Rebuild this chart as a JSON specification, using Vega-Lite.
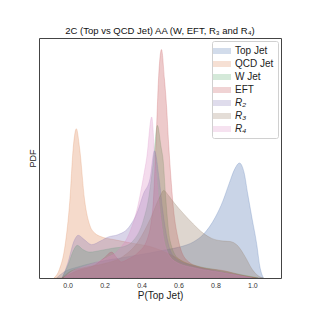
{
"$schema": "https://vega.github.io/schema/vega-lite/v6.json",
"width": 242, "height": 240,
"autosize": {"type": "none"},
"padding": {"left": 39, "top": 38, "right": 31, "bottom": 34},
"background": "white",
"title": {"text": "2C (Top vs QCD Jet) AA (W, EFT, R₃ and R₄)", "fontSize": 9.5, "font": "Liberation Sans", "fontWeight": "normal", "color": "#111", "offset": 3},
"config": {"view": {"stroke": "#444", "strokeWidth": 1}, "font": "Liberation Sans"},
"datasets": {
"kde": [
{"s":"Top Jet","x":-0.06,"y":0},{"s":"Top Jet","x":-0.02,"y":0.25},{"s":"Top Jet","x":0.05,"y":0.45},{"s":"Top Jet","x":0.15,"y":0.65},{"s":"Top Jet","x":0.3,"y":0.85},{"s":"Top Jet","x":0.45,"y":1.05},{"s":"Top Jet","x":0.55,"y":1.2},{"s":"Top Jet","x":0.62,"y":1.32},{"s":"Top Jet","x":0.68,"y":1.5},{"s":"Top Jet","x":0.735,"y":1.82},{"s":"Top Jet","x":0.8,"y":2.54},{"s":"Top Jet","x":0.84,"y":3.2},{"s":"Top Jet","x":0.874,"y":3.93},{"s":"Top Jet","x":0.905,"y":4.55},{"s":"Top Jet","x":0.93,"y":4.79},{"s":"Top Jet","x":0.955,"y":4.4},{"s":"Top Jet","x":0.975,"y":3.5},{"s":"Top Jet","x":0.997,"y":2.54},{"s":"Top Jet","x":1.024,"y":1.39},{"s":"Top Jet","x":1.04,"y":0.5},{"s":"Top Jet","x":1.06,"y":0},
{"s":"QCD Jet","x":-0.074,"y":0},{"s":"QCD Jet","x":-0.045,"y":0.35},{"s":"QCD Jet","x":-0.015,"y":1.3},{"s":"QCD Jet","x":0.012,"y":3.24},{"s":"QCD Jet","x":0.03,"y":5.4},{"s":"QCD Jet","x":0.047,"y":6.22},{"s":"QCD Jet","x":0.065,"y":5.4},{"s":"QCD Jet","x":0.092,"y":3.24},{"s":"QCD Jet","x":0.12,"y":2.2},{"s":"QCD Jet","x":0.15,"y":1.85},{"s":"QCD Jet","x":0.175,"y":1.74},{"s":"QCD Jet","x":0.25,"y":1.6},{"s":"QCD Jet","x":0.35,"y":1.45},{"s":"QCD Jet","x":0.45,"y":1.3},{"s":"QCD Jet","x":0.55,"y":1.0},{"s":"QCD Jet","x":0.65,"y":0.6},{"s":"QCD Jet","x":0.8,"y":0.3},{"s":"QCD Jet","x":0.95,"y":0.1},{"s":"QCD Jet","x":1.03,"y":0},
{"s":"W Jet","x":-0.03,"y":0},{"s":"W Jet","x":0.0,"y":0.5},{"s":"W Jet","x":0.035,"y":1.2},{"s":"W Jet","x":0.052,"y":1.36},{"s":"W Jet","x":0.08,"y":1.2},{"s":"W Jet","x":0.12,"y":1.08},{"s":"W Jet","x":0.18,"y":1.15},{"s":"W Jet","x":0.25,"y":1.25},{"s":"W Jet","x":0.3,"y":1.3},{"s":"W Jet","x":0.36,"y":1.6},{"s":"W Jet","x":0.41,"y":2.4},{"s":"W Jet","x":0.44,"y":3.4},{"s":"W Jet","x":0.464,"y":4.83},{"s":"W Jet","x":0.486,"y":6.36},{"s":"W Jet","x":0.505,"y":5.5},{"s":"W Jet","x":0.518,"y":4.83},{"s":"W Jet","x":0.53,"y":3.45},{"s":"W Jet","x":0.554,"y":1.57},{"s":"W Jet","x":0.6,"y":0.8},{"s":"W Jet","x":0.7,"y":0.5},{"s":"W Jet","x":0.8,"y":0.35},{"s":"W Jet","x":0.9,"y":0.2},{"s":"W Jet","x":1.0,"y":0.05},{"s":"W Jet","x":1.03,"y":0},
{"s":"EFT","x":-0.03,"y":0},{"s":"EFT","x":0.05,"y":0.3},{"s":"EFT","x":0.15,"y":0.55},{"s":"EFT","x":0.2,"y":0.85},{"s":"EFT","x":0.238,"y":1.08},{"s":"EFT","x":0.265,"y":0.85},{"s":"EFT","x":0.29,"y":0.67},{"s":"EFT","x":0.33,"y":0.8},{"s":"EFT","x":0.38,"y":1.05},{"s":"EFT","x":0.43,"y":1.6},{"s":"EFT","x":0.462,"y":3.0},{"s":"EFT","x":0.48,"y":6.0},{"s":"EFT","x":0.492,"y":8.3},{"s":"EFT","x":0.508,"y":9.52},{"s":"EFT","x":0.524,"y":8.3},{"s":"EFT","x":0.536,"y":7.1},{"s":"EFT","x":0.546,"y":5.7},{"s":"EFT","x":0.558,"y":4.3},{"s":"EFT","x":0.572,"y":2.96},{"s":"EFT","x":0.6,"y":1.57},{"s":"EFT","x":0.645,"y":0.74},{"s":"EFT","x":0.72,"y":0.45},{"s":"EFT","x":0.85,"y":0.3},{"s":"EFT","x":0.95,"y":0.1},{"s":"EFT","x":1.02,"y":0},
{"s":"R₂","x":-0.03,"y":0},{"s":"R₂","x":0.0,"y":0.6},{"s":"R₂","x":0.035,"y":1.55},{"s":"R₂","x":0.057,"y":1.78},{"s":"R₂","x":0.09,"y":1.6},{"s":"R₂","x":0.13,"y":1.39},{"s":"R₂","x":0.18,"y":1.55},{"s":"R₂","x":0.22,"y":1.71},{"s":"R₂","x":0.27,"y":1.8},{"s":"R₂","x":0.33,"y":2.1},{"s":"R₂","x":0.38,"y":2.8},{"s":"R₂","x":0.41,"y":3.5},{"s":"R₂","x":0.446,"y":4.15},{"s":"R₂","x":0.47,"y":5.3},{"s":"R₂","x":0.495,"y":4.15},{"s":"R₂","x":0.515,"y":2.8},{"s":"R₂","x":0.54,"y":1.6},{"s":"R₂","x":0.58,"y":0.85},{"s":"R₂","x":0.68,"y":0.5},{"s":"R₂","x":0.8,"y":0.3},{"s":"R₂","x":0.92,"y":0.12},{"s":"R₂","x":1.0,"y":0},
{"s":"R₃","x":-0.03,"y":0},{"s":"R₃","x":0.02,"y":0.3},{"s":"R₃","x":0.1,"y":0.45},{"s":"R₃","x":0.2,"y":0.6},{"s":"R₃","x":0.3,"y":0.9},{"s":"R₃","x":0.38,"y":1.5},{"s":"R₃","x":0.45,"y":2.5},{"s":"R₃","x":0.5,"y":3.4},{"s":"R₃","x":0.52,"y":3.65},{"s":"R₃","x":0.545,"y":3.45},{"s":"R₃","x":0.58,"y":3.1},{"s":"R₃","x":0.625,"y":2.7},{"s":"R₃","x":0.68,"y":2.25},{"s":"R₃","x":0.735,"y":1.86},{"s":"R₃","x":0.78,"y":1.65},{"s":"R₃","x":0.83,"y":1.55},{"s":"R₃","x":0.88,"y":1.52},{"s":"R₃","x":0.92,"y":1.35},{"s":"R₃","x":0.96,"y":0.9},{"s":"R₃","x":1.0,"y":0.35},{"s":"R₃","x":1.04,"y":0.05},{"s":"R₃","x":1.06,"y":0},
{"s":"R₄","x":-0.02,"y":0},{"s":"R₄","x":0.03,"y":0.3},{"s":"R₄","x":0.1,"y":0.5},{"s":"R₄","x":0.2,"y":0.8},{"s":"R₄","x":0.28,"y":1.2},{"s":"R₄","x":0.33,"y":1.8},{"s":"R₄","x":0.38,"y":3.0},{"s":"R₄","x":0.41,"y":4.2},{"s":"R₄","x":0.428,"y":5.0},{"s":"R₄","x":0.455,"y":6.71},{"s":"R₄","x":0.472,"y":5.0},{"s":"R₄","x":0.5,"y":2.8},{"s":"R₄","x":0.53,"y":1.3},{"s":"R₄","x":0.58,"y":0.7},{"s":"R₄","x":0.7,"y":0.4},{"s":"R₄","x":0.82,"y":0.25},{"s":"R₄","x":0.93,"y":0.1},{"s":"R₄","x":1.0,"y":0}
]},
"data": {"name": "kde"},
"mark": {"type": "area", "interpolate": "monotone", "fillOpacity": 0.3, "strokeOpacity": 0.3, "strokeWidth": 0.8, "clip": true},
"encoding": {
"x": {"field": "x", "type": "quantitative", "scale": {"domain": [-0.155, 1.155], "nice": false, "zero": false},
 "axis": {"title": "P(Top Jet)", "values": [0, 0.2, 0.4, 0.6, 0.8, 1.0], "format": ".1f", "ticks": false, "domain": false, "grid": false, "labelFontSize": 7, "labelColor": "#333", "labelPadding": 3, "titleFontSize": 10, "titleFontWeight": "normal", "titleColor": "#222", "titlePadding": 2}},
"y": {"field": "y", "type": "quantitative", "stack": null, "scale": {"domain": [0, 10], "nice": false},
 "axis": {"title": "PDF", "labels": false, "ticks": false, "domain": false, "grid": false, "titleFontSize": 9, "titleFontWeight": "normal", "titleColor": "#222", "titlePadding": 2}},
"color": {"field": "s", "type": "nominal",
 "scale": {"domain": ["Top Jet", "QCD Jet", "W Jet", "EFT", "R₂", "R₃", "R₄"], "range": ["#4c72b0", "#dd8452", "#55a868", "#c44e52", "#8172b3", "#937860", "#da8bc3"]},
 "legend": {"title": null, "orient": "none", "legendX": 173, "legendY": 3, "padding": 4, "strokeColor": "#d0d0d0", "fillColor": "rgba(255,255,255,0.8)", "cornerRadius": 2, "symbolType": "M-1.5,-0.5H1.5V0.5H-1.5Z", "symbolSize": 144, "symbolOpacity": 0.25, "symbolStrokeWidth": 0, "labelFontSize": 10, "labelColor": "#222", "labelOffset": 7, "rowPadding": 2, "labelFontStyle": {"expr": "test(/^R/, datum.label) ? 'italic' : 'normal'"}}},
"stroke": {"field": "s", "type": "nominal", "scale": {"domain": ["Top Jet", "QCD Jet", "W Jet", "EFT", "R₂", "R₃", "R₄"], "range": ["#4c72b0", "#dd8452", "#55a868", "#c44e52", "#8172b3", "#937860", "#da8bc3"]}, "legend": null}
}
}
